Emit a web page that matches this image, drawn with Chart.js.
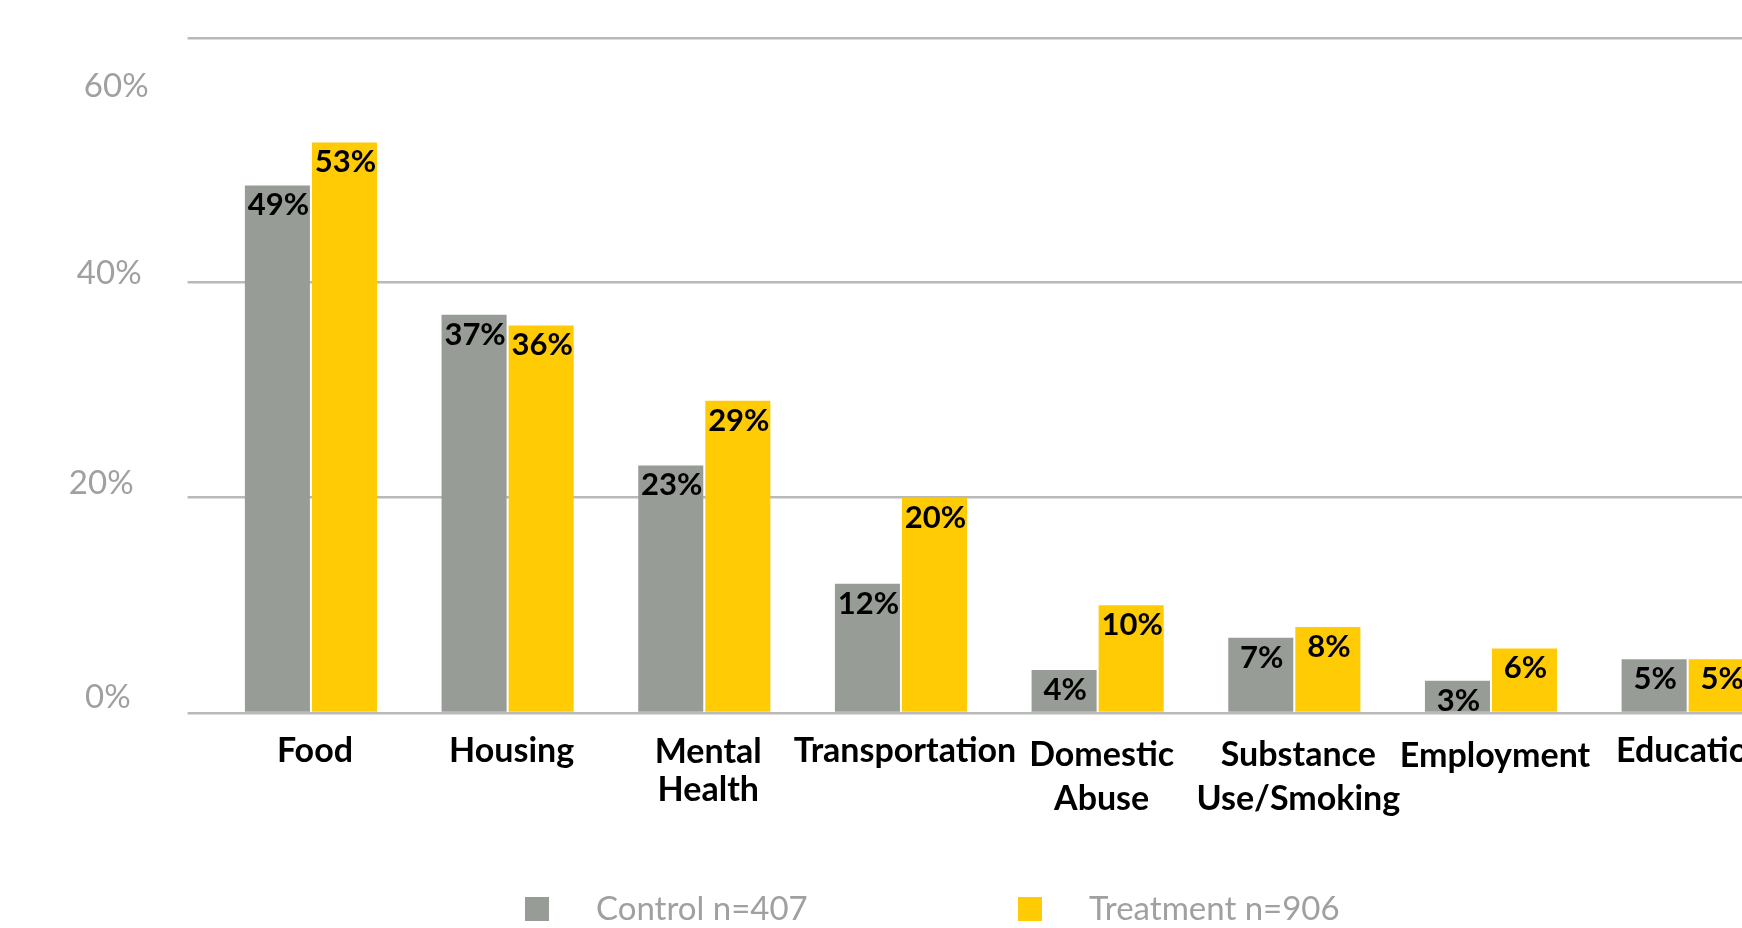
<!DOCTYPE html>
<html>
<head>
<meta charset="utf-8">
<title>Needs reported by group</title>
<script src="https://cdn.jsdelivr.net/npm/chart.js@4.4.1/dist/chart.umd.min.js"></script>
<style>
  html, body { margin: 0; padding: 0; background: #ffffff; overflow: hidden; }
  #wrap { position: relative; width: 1800px; height: 928px; }
</style>
</head>
<body>
<div id="wrap"><canvas id="needsChart"></canvas></div>
<script>
// Categories and percentages per group
const categories = ['Food', 'Housing', ['Mental', 'Health'], 'Transportation', ['Domestic', 'Abuse'], ['Substance', 'Use/Smoking'], 'Employment', 'Education'];
const controlValues = [49, 37, 23, 12, 4, 7, 3, 5];
const treatmentValues = [53, 36, 29, 20, 10, 8, 6, 5];
const seriesNames = ['Control n=407', 'Treatment n=906'];
const yTickValues = [0, 20, 40, 60];
const yTickLabels = ['0%', '20%', '40%', '60%'];
const Y_MAX = 62.7;

const GREY = '#989c97';
const YELLOW = '#ffcb05';
const AXIS_TEXT = '#9ea19d';
const GRID = '#b9b9b9';

// y-axis labels sit slightly above their grid lines
const yLabelPlacement = {
  0:  { dx: -82, dy: -16 },
  20: { dx: -79, dy: -14 },
  40: { dx: -71, dy: -9 },
  60: { dx: -64, dy: 19 }
};

const yLabelsPlugin = {
  id: 'yLabels',
  afterDraw(chart) {
    const { ctx, chartArea } = chart;
    const y = chart.scales.y;
    ctx.save();
    ctx.font = '400 33px Lato';
    ctx.fillStyle = AXIS_TEXT;
    ctx.textAlign = 'right';
    ctx.textBaseline = 'middle';
    yTickValues.forEach((v, i) => {
      const p = yLabelPlacement[v];
      ctx.fillText(yTickLabels[i], chartArea.left + p.dx, y.getPixelForValue(v) + p.dy);
    });
    ctx.restore();
  }
};

const barValuePlugin = {
  id: 'barValues',
  afterDatasetsDraw(chart) {
    const { ctx } = chart;
    ctx.save();
    ctx.font = '700 31px Lato';
    ctx.fillStyle = '#000000';
    ctx.textAlign = 'center';
    ctx.textBaseline = 'middle';
    chart.data.datasets.forEach((ds, di) => {
      chart.getDatasetMeta(di).data.forEach((bar, i) => {
        ctx.fillText(ds.data[i] + '%', bar.x + 1, bar.y + 20);
      });
    });
    ctx.restore();
  }
};

const legendPlugin = {
  id: 'bottomLegend',
  afterDraw(chart) {
    const { ctx, chartArea } = chart;
    const cy = chartArea.bottom + 196;
    const starts = [525, 1018];
    ctx.save();
    ctx.font = '400 33px Lato';
    ctx.textBaseline = 'middle';
    ctx.textAlign = 'left';
    chart.data.datasets.forEach((ds, i) => {
      const x = starts[i];
      ctx.fillStyle = ds.backgroundColor;
      ctx.fillRect(x, cy - 12, 24, 24);
      ctx.fillStyle = AXIS_TEXT;
      ctx.fillText(ds.label, x + 71, cy);
    });
    ctx.restore();
  }
};

// per-category line spacing for the axis labels
const tickLineHeights = [36, 36, 38, 36, 44, 44, 46, 36];

new Chart(document.getElementById('needsChart'), {
  type: 'bar',
  data: {
    labels: categories,
    datasets: [
      { label: seriesNames[0], data: controlValues, backgroundColor: GREY },
      { label: seriesNames[1], data: treatmentValues, backgroundColor: YELLOW }
    ]
  },
  options: {
    responsive: true,
    maintainAspectRatio: false,
    animation: false,
    layout: { padding: { top: 38, right: 14, bottom: 0, left: 0 } },
    datasets: { bar: { categoryPercentage: 0.682, barPercentage: 0.97 } },
    plugins: { legend: { display: false }, tooltip: { enabled: false } },
    scales: {
      x: {
        grid: { display: false, drawTicks: false },
        border: { display: false },
        ticks: {
          color: '#000000',
          padding: 20,
          labelOffset: 4,
          maxRotation: 0,
          autoSkip: false,
          font: (ctx) => ({
            family: 'Lato',
            size: 34,
            weight: '700',
            lineHeight: (tickLineHeights[ctx.index] || 36) + 'px'
          })
        },
        afterFit(scale) { scale.height = 215; }
      },
      y: {
        min: 0,
        max: Y_MAX,
        grid: { color: GRID, lineWidth: 2.5, drawTicks: true, tickLength: 25, tickColor: GRID, tickWidth: 2.5 },
        border: { display: false },
        ticks: { display: false },
        afterBuildTicks(scale) {
          scale.ticks = [0, 20, 40, Y_MAX].map(v => ({ value: v }));
        },
        afterFit(scale) { scale.width = 212.6; }
      }
    }
  },
  plugins: [yLabelsPlugin, barValuePlugin, legendPlugin]
});
</script>
</body>
</html>
